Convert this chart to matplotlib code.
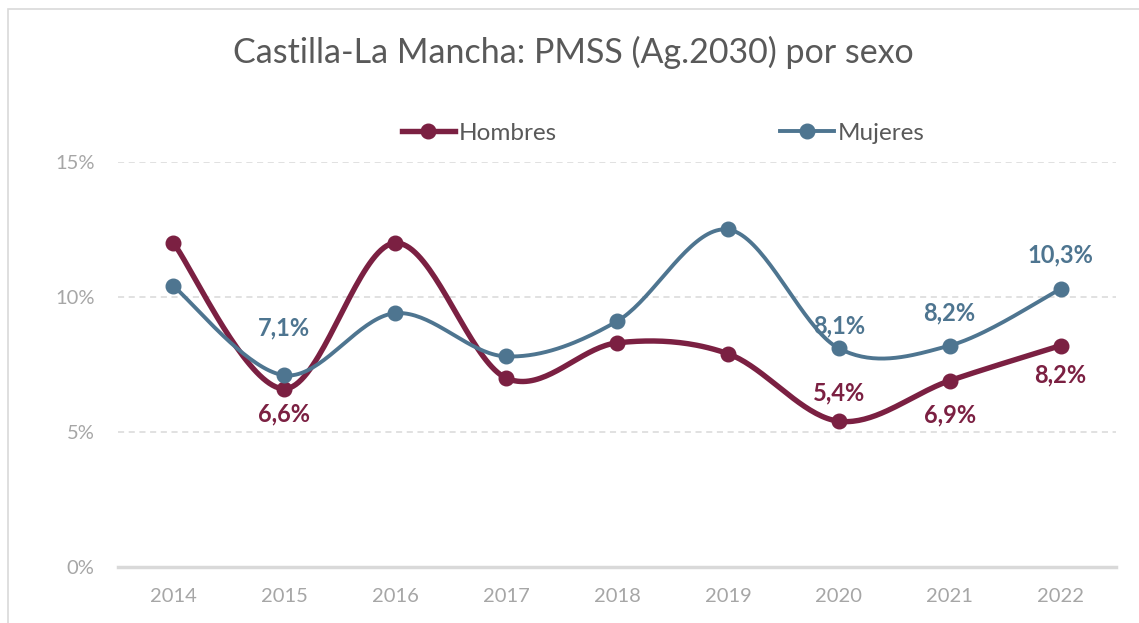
import matplotlib
matplotlib.use("Agg")
import matplotlib.pyplot as plt
import numpy as np
from matplotlib.patches import Rectangle
from matplotlib.lines import Line2D

# datos
anios = ["2014", "2015", "2016", "2017", "2018", "2019", "2020", "2021", "2022"]
hombres = [12.0, 6.6, 12.0, 7.0, 8.3, 7.9, 5.4, 6.9, 8.2]
mujeres = [10.4, 7.1, 9.4, 7.8, 9.1, 12.5, 8.1, 8.2, 10.3]

# etiquetas visibles: índice -> desplazamiento vertical en píxeles (positivo = arriba)
etiquetas_hombres = {1: -25, 6: 28, 7: -34, 8: -29}
etiquetas_mujeres = {1: 47, 6: 22, 7: 33, 8: 34}

color_h = "#7B2042"
color_m = "#4E7590"
gris = "#A6A6A6"

plt.rcParams["font.family"] = ["Lato", "DejaVu Sans"]


# curva suavizada tipo Excel (bezier con tangentes 1/6)
def suavizar(xs, ys, n=40):
    xs = np.asarray(xs, float)
    ys = np.asarray(ys, float)
    px, py = [], []
    for i in range(len(xs) - 1):
        x0, y0 = (xs[i - 1], ys[i - 1]) if i > 0 else (xs[i], ys[i])
        x3, y3 = (xs[i + 2], ys[i + 2]) if i + 2 < len(xs) else (xs[i + 1], ys[i + 1])
        c1x = xs[i] + (xs[i + 1] - x0) / 6
        c1y = ys[i] + (ys[i + 1] - y0) / 6
        c2x = xs[i + 1] - (x3 - xs[i]) / 6
        c2y = ys[i + 1] - (y3 - ys[i]) / 6
        t = np.linspace(0, 1, n)
        bx = (1-t)**3*xs[i] + 3*(1-t)**2*t*c1x + 3*(1-t)*t**2*c2x + t**3*xs[i+1]
        by = (1-t)**3*ys[i] + 3*(1-t)**2*t*c1y + 3*(1-t)*t**2*c2y + t**3*ys[i+1]
        px.extend(bx)
        py.extend(by)
    return px, py


fig = plt.figure(figsize=(11.39, 6.23), dpi=100)
ax = fig.add_axes([118/1139, 1 - 567/623, (1116-118)/1139, (567-162)/623])

# borde del gráfico
fig.patches.append(Rectangle((8/1139, -0.1), 1.2, 1 - 9/623 + 0.1, transform=fig.transFigure,
                             fill=False, edgecolor="#D9D9D9", linewidth=1.2))

x = np.arange(len(anios))

hx, hy = suavizar(x, hombres)
mx, my = suavizar(x, mujeres)
ax.plot(hx, hy, color=color_h, linewidth=3.9, zorder=3, solid_capstyle="round")
ax.plot(mx, my, color=color_m, linewidth=2.8, zorder=3, solid_capstyle="round")
ax.plot(x, hombres, "o", color=color_h, markersize=10.5, zorder=4)
ax.plot(x, mujeres, "o", color=color_m, markersize=10.5, zorder=4)

# etiquetas de datos
for serie, etiquetas, color in [(hombres, etiquetas_hombres, color_h),
                                (mujeres, etiquetas_mujeres, color_m)]:
    for i, dy in etiquetas.items():
        texto = f"{serie[i]:.1f}%".replace(".", ",")
        ax.annotate(texto, (x[i], serie[i]), xytext=(0, dy * 0.72), textcoords="offset points",
                    ha="center", va="center", fontsize=17, fontweight="bold", color=color)

ax.set_xlim(-0.5, len(anios) - 0.5)
ax.set_ylim(0, 15)
ax.set_yticks([0, 5, 10, 15])
ax.set_yticklabels([f"{v}%" for v in [0, 5, 10, 15]])
ax.set_xticks(x)
ax.set_xticklabels(anios)
ax.tick_params(axis="both", length=0, colors=gris, labelsize=14.5)
ax.tick_params(axis="x", pad=15)
ax.tick_params(axis="y", pad=17)
ax.grid(axis="y", color="#D9D9D9", linestyle=(0, (4, 3)), linewidth=1.1)
ax.set_axisbelow(True)
for lado in ["top", "right", "left"]:
    ax.spines[lado].set_visible(False)
ax.spines["bottom"].set_color("#D9D9D9")
ax.spines["bottom"].set_linewidth(2.5)
ax.spines["bottom"].set_zorder(1)

fig.text(573/1139, 1 - 52/623, "Castilla-La Mancha: PMSS (Ag.2030) por sexo",
         ha="center", va="center", fontsize=24.5, color="#595959")

# leyenda
handles = [Line2D([], [], color=color_h, linewidth=3.9, marker="o", markersize=10.5),
           Line2D([], [], color=color_m, linewidth=2.8, marker="o", markersize=10.5)]
fig.legend(handles, ["Hombres", "Mujeres"], loc="center", bbox_to_anchor=(663/1139, 1 - 133/623),
           ncol=2, frameon=False, fontsize=17.5, labelcolor="#595959", handlelength=2.2,
           handletextpad=0.15, columnspacing=9.2)

fig.savefig("out.png", dpi=100)
